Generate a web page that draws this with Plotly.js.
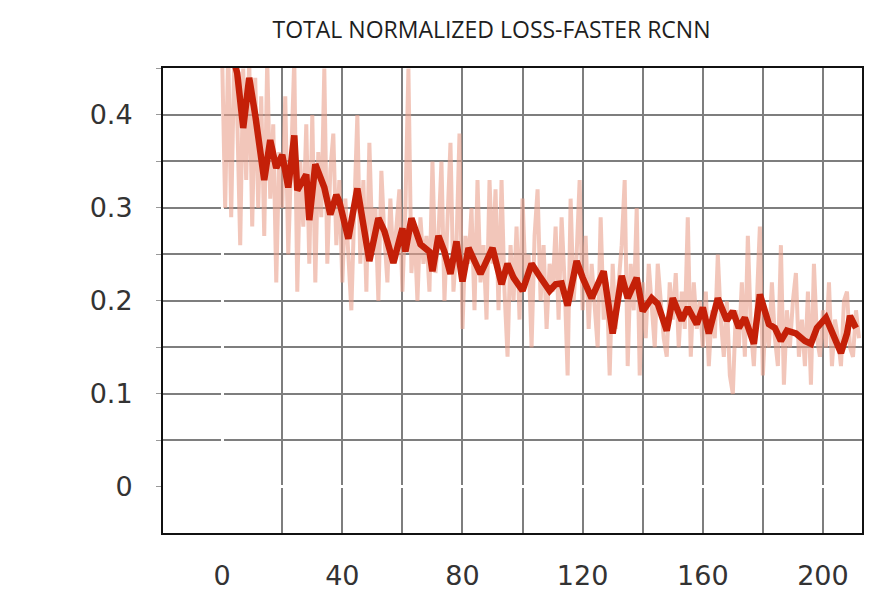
<!DOCTYPE html>
<html>
<head>
<meta charset="utf-8">
<script src="https://cdn.plot.ly/plotly-3.0.1.min.js"></script>
<style>html,body{margin:0;padding:0;background:#fff;}#chart{width:872px;height:590px;}</style>
</head>
<body>
<div id="chart"></div>
<script>
// Raw (unsmoothed) loss, one value per step 0..212
const rawY = [
0.46,0.30,0.47,0.29,0.46,0.40,0.26,0.45,0.33,0.46,
0.28,0.44,0.30,0.42,0.27,0.46,0.31,0.39,0.22,0.36,
0.30,0.42,0.25,0.38,0.46,0.21,0.35,0.28,0.39,0.24,
0.40,0.22,0.36,0.29,0.45,0.24,0.34,0.38,0.26,0.33,
0.22,0.31,0.25,0.19,0.30,0.40,0.24,0.33,0.21,0.37,
0.26,0.30,0.20,0.34,0.27,0.22,0.31,0.24,0.28,0.32,
0.21,0.30,0.45,0.23,0.28,0.20,0.29,0.24,0.27,0.21,
0.35,0.23,0.27,0.35,0.20,0.30,0.37,0.21,0.26,0.38,
0.17,0.27,0.24,0.30,0.19,0.33,0.22,0.26,0.18,0.33,
0.24,0.32,0.19,0.33,0.21,0.14,0.26,0.20,0.28,0.18,
0.31,0.22,0.25,0.15,0.27,0.32,0.20,0.26,0.17,0.24,
0.21,0.28,0.18,0.29,0.22,0.12,0.31,0.20,0.25,0.33,
0.19,0.27,0.17,0.24,0.20,0.15,0.29,0.18,0.22,0.12,
0.24,0.17,0.22,0.26,0.33,0.13,0.24,0.19,0.30,0.12,
0.22,0.16,0.24,0.19,0.15,0.24,0.20,0.16,0.14,0.22,
0.18,0.23,0.15,0.21,0.17,0.29,0.14,0.22,0.17,0.20,
0.15,0.21,0.13,0.19,0.16,0.25,0.18,0.14,0.20,0.12,
0.10,0.19,0.15,0.22,0.14,0.27,0.17,0.13,0.20,0.28,
0.12,0.19,0.15,0.22,0.16,0.13,0.26,0.11,0.19,0.15,
0.20,0.23,0.14,0.18,0.13,0.21,0.11,0.24,0.16,0.14,
0.19,0.15,0.22,0.13,0.18,0.16,0.13,0.20,0.21,0.15,
0.14,0.19,0.16
];
const rawX = rawY.map((_, i) => i);

// Smoothed loss
const smoothX = [3,5,7,9,11,14,16,18,20,22,24,25,28,29,31,34,36,38,39,42,45,49,52,54,57,60,61,63,66,69,70,72,74,76,78,80,82,86,90,93,95,97,100,103,106,109,111,113,115,118,120,123,127,130,133,135,138,140,143,145,148,150,153,155,158,160,162,165,168,170,172,174,177,179,182,184,186,188,191,194,196,198,201,204,206,208,209,211];
const smoothY = [0.47,0.445,0.386,0.44,0.40,0.33,0.373,0.343,0.357,0.322,0.378,0.319,0.336,0.287,0.347,0.322,0.293,0.314,0.307,0.267,0.321,0.243,0.289,0.275,0.241,0.278,0.253,0.289,0.261,0.253,0.232,0.27,0.253,0.229,0.264,0.221,0.257,0.229,0.257,0.218,0.24,0.225,0.211,0.24,0.225,0.211,0.218,0.219,0.195,0.243,0.225,0.203,0.232,0.165,0.227,0.203,0.225,0.189,0.203,0.197,0.168,0.203,0.179,0.193,0.175,0.193,0.165,0.203,0.179,0.189,0.171,0.182,0.154,0.207,0.175,0.171,0.157,0.168,0.165,0.157,0.154,0.171,0.182,0.157,0.144,0.165,0.184,0.171];

const titleText = "TOTAL NORMALIZED LOSS-FASTER RCNN";
const xTickVals = [0,40,80,120,160,200];
const xTickText = ["0","40","80","120","160","200"];
const yTickVals = [0,0.1,0.2,0.3,0.4];
const yTickText = ["0","0.1","0.2","0.3","0.4"];

const gridColor = "#7e7e7e";

const traces = [
  {x: rawX, y: rawY, type: "scatter", mode: "lines",
   line: {color: "rgba(234,160,140,0.6)", width: 4}, hoverinfo: "skip"},
  {x: smoothX, y: smoothY, type: "scatter", mode: "lines",
   line: {color: "#c42008", width: 6.5}, hoverinfo: "skip"}
];

const layout = {
  width: 872, height: 590,
  margin: {l: 163, r: 10, t: 68, b: 57},
  paper_bgcolor: "#ffffff", plot_bgcolor: "#ffffff",
  showlegend: false,
  title: {text: titleText, x: 0.47, xref: "paper", xanchor: "center", y: 0.95, yanchor: "middle",
          font: {family: "Open Sans", size: 23, color: "#1e1e1e"}},
  xaxis: {
    range: [-19.7, 213], tickvals: xTickVals, ticktext: xTickText,
    showgrid: true, gridcolor: gridColor, gridwidth: 2,
    minor: {dtick: 20, tick0: 0, showgrid: true, gridcolor: gridColor, gridwidth: 2},
    zeroline: true, zerolinecolor: "#ffffff", zerolinewidth: 3,
    showline: true, linecolor: "#111", linewidth: 2, mirror: true,
    ticks: "", ticklabelstandoff: 18,
    tickfont: {family: "DejaVu Sans", size: 27, color: "#333"}
  },
  yaxis: {
    range: [-0.0495, 0.4505], tickvals: yTickVals, ticktext: yTickText,
    showgrid: true, gridcolor: gridColor, gridwidth: 2,
    minor: {dtick: 0.05, tick0: 0, showgrid: true, gridcolor: gridColor, gridwidth: 2,
            ticks: "outside", ticklen: 5, tickcolor: "#999"},
    zeroline: true, zerolinecolor: "#ffffff", zerolinewidth: 3,
    showline: true, linecolor: "#111", linewidth: 2, mirror: true,
    ticks: "outside", ticklen: 5, tickcolor: "#999", ticklabelstandoff: 18,
    tickfont: {family: "DejaVu Sans", size: 27, color: "#333"}
  }
};

Plotly.newPlot("chart", traces, layout, {staticPlot: true, displayModeBar: false});
</script>
</body>
</html>
